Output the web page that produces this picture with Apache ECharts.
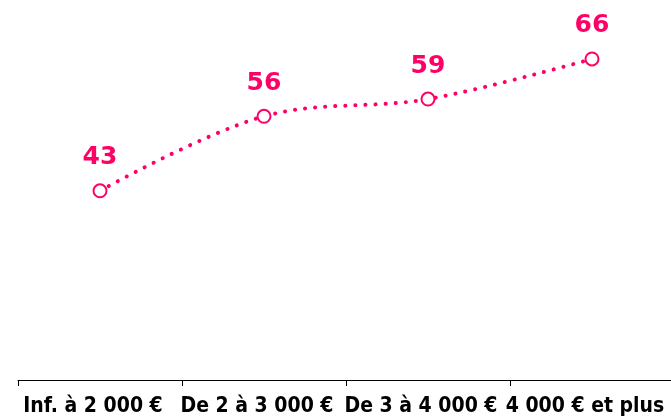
<!DOCTYPE html>
<html><head><meta charset="utf-8">
<script src="https://cdn.jsdelivr.net/npm/echarts@6/dist/echarts.min.js"></script>
<style>html,body{margin:0;padding:0;background:#fff;overflow:hidden}#c{width:674px;height:418px}</style>
</head><body><div id="c"></div>
<script>
var categories = ["Inf. à 2 000 €", "De 2 à 3 000 €", "De 3 à 4 000 €", "4 000 € et plus"];
var values = [43, 56, 59, 66];
var pink = '#FF0066';
var chart = echarts.init(document.getElementById('c'));
chart.setOption({
  animation: false,
  grid: {left: 18, right: 0, top: 36, bottom: 38},
  xAxis: {
    type: 'category', data: categories, boundaryGap: true,
    axisLine: {lineStyle: {color: '#000', width: 1}},
    axisTick: {show: true, length: 6, lineStyle: {color: '#000'}},
    axisLabel: {color: '#000', fontFamily: 'DejaVu Sans Condensed', fontWeight: 'bold', fontSize: 21, margin: 16, interval: 0, padding: [0, 14, 0, 0]}
  },
  yAxis: {type: 'value', min: 10, max: 70, show: false, splitLine: {show: false}},
  series: [{
    type: 'line', data: values, smooth: 0.35,
    symbol: 'emptyCircle', symbolSize: 13,
    itemStyle: {color: pink, borderWidth: 2, borderColor: pink},
    lineStyle: {color: pink, width: 4, type: [0.1, 10], cap: 'round'},
    label: {show: true, position: 'top', distance: 13, color: pink, fontFamily: 'DejaVu Sans', fontWeight: 'bold', fontSize: 25}
  }]
});
</script></body></html>
